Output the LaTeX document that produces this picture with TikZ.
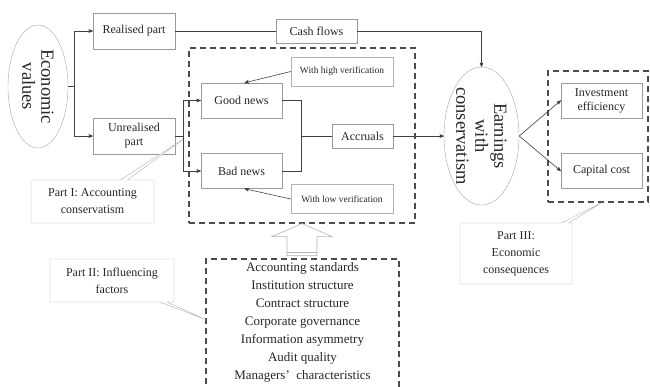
\documentclass[tikz,border=0pt]{standalone}
\usepackage{fontspec}
\setmainfont{Liberation Serif}
\usetikzlibrary{arrows,fit,positioning,calc,shapes.geometric,shapes.callouts}
\tikzset{
    %Define standard arrow tip
    >=stealth',
    %Define style for boxes
    part/.style={
           rectangle,
           draw=black!40, thin,
           minimum width=82pt,
           minimum height=36pt,
           inner sep=1pt,
           font=\fontsize{12}{14}\selectfont,
           text=black!85,
           align=center},
    verif/.style={
           rectangle,
           draw=black!30, thin,
           minimum width=102pt,
           minimum height=29pt,
           inner sep=1pt,
           font=\fontsize{9.5}{11}\selectfont,
           text=black!85},
    oval/.style={
           ellipse,
           draw=black!35, thin,
           rotate=-90,
           minimum width=123pt,
           minimum height=60pt,
           inner sep=0pt,
           font=\fontsize{18.5}{19}\selectfont,
           text=black!85,
           align=center},
    dashbox/.style={
           rectangle,
           draw=black!70,
           line width=1.1pt,
           dash pattern=on 6pt off 4pt},
    note/.style={
           rectangle callout,
           draw=black!30, thin,
           fill=white,
           inner sep=1pt,
           font=\fontsize{12}{17}\selectfont,
           text=black!85,
           align=center},
    % Define arrow style
    pil/.style={
           draw=black!75,
           line width=0.6pt},
    hollow/.style={
           draw=black!30,
           line width=0.6pt}
}
\begin{document}
\begin{tikzpicture}[x=1pt,y=-1pt]
\useasboundingbox (0,0) rectangle (650,386);
 %nodes
\node[oval](ev) at (38,86.5) {Economic\\values};
\node[part](rp) at (134,31) {Realised part};
\node[part](up) at (134,136) {Unrealised\\part};
\node[part, minimum width=81pt, minimum height=24pt](cf) at (316.5,31) {Cash flows};
\node[dashbox, minimum width=226pt, minimum height=175pt](d1) at (302,135.5) {};
\node[part, minimum width=81pt, minimum height=35pt](gn) at (241.5,100.5) {Good news};
\node[part, minimum width=81pt, minimum height=35pt](bn) at (241.5,171) {Bad news};
\node[part, minimum width=61pt, minimum height=24pt](ac) at (362.5,136) {Accruals};
\node[verif](hv) at (342,71.5) {With high verification};
\node[verif](lv) at (342,199) {With low verification};
\node[oval, minimum width=132pt, minimum height=75pt](ec) at (481.5,136) {Earnings\\with\\conservatism};
\node[dashbox, minimum width=100pt, minimum height=131pt](d2) at (598,136.5) {};
\node[part, minimum width=81pt, minimum height=35pt](ie) at (601.5,100.5) {Investment\\efficiency};
\node[part, minimum width=81pt, minimum height=35pt](cc) at (601.5,171) {Capital cost};
\node[dashbox, minimum width=193pt, minimum height=135pt](d3) at (302.5,326.5) {};
\node[align=center, text=black!85, font=\fontsize{13}{18}\selectfont](fl) at (302.5,322.5)
    {Accounting standards\\Institution structure\\Contract structure\\Corporate governance\\
     Information asymmetry\\Audit quality\\Managers’\enspace characteristics};
 %callout tips
\coordinate (p1) at ($(d1.north west)+(-4,91)$);
\coordinate (p2) at ($(d3.north west)+(0,61)$);
\coordinate (p3) at ($(d2.south)+(4,0)$);
\node[note, minimum width=123pt, minimum height=43pt, callout absolute pointer={(p1)}](n1) at (92.5,201.5) {Part I: Accounting\\conservatism};
\node[note, minimum width=124pt, minimum height=43pt, callout absolute pointer={(p2)}](n2) at (112,280.5) {Part II: Influencing\\factors};
\node[note, minimum width=112pt, minimum height=61pt, callout absolute pointer={(p3)}](n3) at (516,253.5) {Part III:\\Economic\\consequences};
 %connectors
\coordinate (j1) at ($(ev.north)+(6,0)$);
\coordinate (j2) at ($(up.east)+(8,0)$);
\coordinate (j3) at ($(ac.west)+(-31,0)$);
\draw[pil] (ev.north) -- (j1);
\draw[pil,->] (j1) |- (rp.west);
\draw[pil,->] (j1) |- (up.west);
\draw[pil] (rp.east) -- (cf.west);
\draw[pil,->] (cf.east) -| (ec.west);
\draw[pil] (up.east) -- (j2);
\draw[pil,->] (j2) |- (gn.west);
\draw[pil,->] (j2) |- (bn.west);
\draw[pil] (gn.east) -| (j3);
\draw[pil] (bn.east) -| (j3);
\draw[pil] (j3) -- (ac.west);
\draw[pil,->] (ac.east) -- (ec.south);
\draw[pil,->] (hv.west) -- ($(gn.north)+(3,0)$);
\draw[pil,->] (lv.west) -- ($(bn.south)+(3,0)$);
\draw[pil,->] (ec.north) -- (ie.west);
\draw[pil,->] (ec.north) -- (cc.west);
 %hollow arrow
\draw[hollow] (d1.south) -- ++(30,13) -- ++(-15,0) -- ++(0,19) -- ++(-30,0) -- ++(0,-19) -- ++(-15,0) -- cycle;
\draw[hollow] ($(d1.south)+(-15,29)$) -- ++(30,0);
\end{tikzpicture}
\end{document}
